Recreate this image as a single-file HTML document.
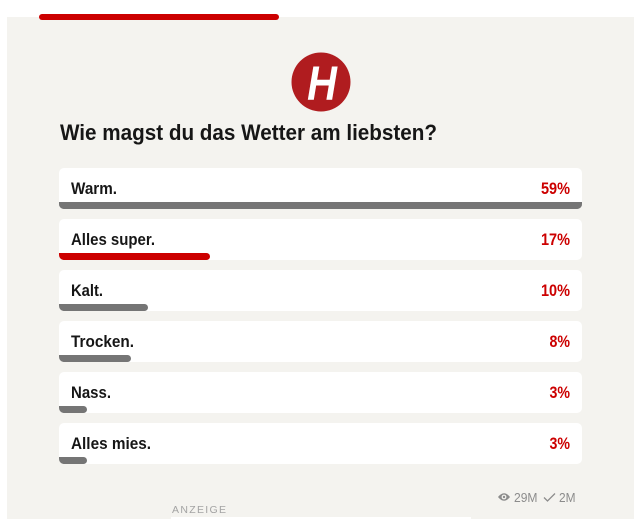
<!DOCTYPE html>
<html><head><meta charset="utf-8"><style>
html,body{margin:0;padding:0;background:#fff;width:635px;height:519px;overflow:hidden}
svg{display:block}
text{font-family:"Liberation Sans",Arial,sans-serif}
</style></head><body>
<svg width="635" height="519" viewBox="0 0 635 519" xmlns="http://www.w3.org/2000/svg">
<defs>
<clipPath id="c1"><rect x="59" y="168" width="523" height="41" rx="5"/></clipPath>
<clipPath id="c2"><rect x="59" y="219" width="523" height="41" rx="5"/></clipPath>
<clipPath id="c3"><rect x="59" y="270" width="523" height="41" rx="5"/></clipPath>
<clipPath id="c4"><rect x="59" y="321" width="523" height="41" rx="5"/></clipPath>
<clipPath id="c5"><rect x="59" y="372" width="523" height="41" rx="5"/></clipPath>
<clipPath id="c6"><rect x="59" y="423" width="523" height="41" rx="5"/></clipPath>
</defs>
<rect x="0" y="0" width="635" height="519" fill="#ffffff"/>
<rect x="7" y="17" width="627" height="502" fill="#f4f3ef"/>
<rect x="39" y="14" width="240" height="6" rx="3" fill="#cc0000"/>
<!-- logo -->
<circle cx="321" cy="82" r="29.5" fill="#b01c1f"/>
<text x="0" y="0" font-size="48" font-weight="bold" font-style="italic" fill="#ffffff" text-anchor="middle" transform="translate(322,100) scale(0.86,1)">H</text>
<!-- title -->
<text x="60" y="140" font-size="22" font-weight="bold" fill="#161616" textLength="377" lengthAdjust="spacingAndGlyphs">Wie magst du das Wetter am liebsten?</text>

<!-- card 1 -->
<rect x="59" y="168" width="523" height="41" rx="5" fill="#ffffff"/>
<g clip-path="url(#c1)"><rect x="59" y="202" width="523" height="7" rx="3.5" fill="#757575"/><rect x="59" y="202" width="10" height="7" fill="#757575"/><rect x="572" y="202" width="10" height="7" fill="#757575"/></g>
<text x="71" y="194" font-size="17" font-weight="bold" fill="#161616" textLength="46" lengthAdjust="spacingAndGlyphs">Warm.</text>
<text x="541" y="194" font-size="17" font-weight="bold" fill="#cc0000" textLength="29" lengthAdjust="spacingAndGlyphs">59%</text>

<!-- card 2 -->
<rect x="59" y="219" width="523" height="41" rx="5" fill="#ffffff"/>
<g clip-path="url(#c2)"><rect x="60" y="253" width="150" height="7" rx="3.5" fill="#cc0000"/><rect x="59" y="253" width="8" height="7" fill="#cc0000"/></g>
<text x="71" y="245" font-size="17" font-weight="bold" fill="#161616" textLength="84" lengthAdjust="spacingAndGlyphs">Alles super.</text>
<text x="541" y="245" font-size="17" font-weight="bold" fill="#cc0000" textLength="29" lengthAdjust="spacingAndGlyphs">17%</text>

<!-- card 3 -->
<rect x="59" y="270" width="523" height="41" rx="5" fill="#ffffff"/>
<g clip-path="url(#c3)"><rect x="60" y="304" width="88" height="7" rx="3.5" fill="#757575"/><rect x="59" y="304" width="8" height="7" fill="#757575"/></g>
<text x="71" y="296" font-size="17" font-weight="bold" fill="#161616" textLength="32" lengthAdjust="spacingAndGlyphs">Kalt.</text>
<text x="541" y="296" font-size="17" font-weight="bold" fill="#cc0000" textLength="29" lengthAdjust="spacingAndGlyphs">10%</text>

<!-- card 4 -->
<rect x="59" y="321" width="523" height="41" rx="5" fill="#ffffff"/>
<g clip-path="url(#c4)"><rect x="60" y="355" width="71" height="7" rx="3.5" fill="#757575"/><rect x="59" y="355" width="8" height="7" fill="#757575"/></g>
<text x="71" y="347" font-size="17" font-weight="bold" fill="#161616" textLength="63" lengthAdjust="spacingAndGlyphs">Trocken.</text>
<text x="549.5" y="347" font-size="17" font-weight="bold" fill="#cc0000" textLength="20.5" lengthAdjust="spacingAndGlyphs">8%</text>

<!-- card 5 -->
<rect x="59" y="372" width="523" height="41" rx="5" fill="#ffffff"/>
<g clip-path="url(#c5)"><rect x="60" y="406" width="27" height="7" rx="3.5" fill="#757575"/><rect x="59" y="406" width="8" height="7" fill="#757575"/></g>
<text x="71" y="398" font-size="17" font-weight="bold" fill="#161616" textLength="40" lengthAdjust="spacingAndGlyphs">Nass.</text>
<text x="549.5" y="398" font-size="17" font-weight="bold" fill="#cc0000" textLength="20.5" lengthAdjust="spacingAndGlyphs">3%</text>

<!-- card 6 -->
<rect x="59" y="423" width="523" height="41" rx="5" fill="#ffffff"/>
<g clip-path="url(#c6)"><rect x="60" y="457" width="27" height="7" rx="3.5" fill="#757575"/><rect x="59" y="457" width="8" height="7" fill="#757575"/></g>
<text x="71" y="449" font-size="17" font-weight="bold" fill="#161616" textLength="80" lengthAdjust="spacingAndGlyphs">Alles mies.</text>
<text x="549.5" y="449" font-size="17" font-weight="bold" fill="#cc0000" textLength="20.5" lengthAdjust="spacingAndGlyphs">3%</text>

<!-- footer stats -->
<g fill="none" stroke="#8c8c8c" stroke-width="1.6">
<path d="M498 497 Q504 489.5 510 497 Q504 504.5 498 497 Z" fill="#8c8c8c" stroke="none"/>
<circle cx="504" cy="497" r="2.4" fill="#f4f3ef" stroke="none"/>
<circle cx="504" cy="497" r="1.2" fill="#8c8c8c" stroke="none"/>
<path d="M544 497.5 L547.5 501 L555 493.5" stroke-width="1.3"/>
</g>
<text x="514" y="502" font-size="12.5" fill="#8c8c8c" textLength="23.5" lengthAdjust="spacingAndGlyphs">29M</text>
<text x="559" y="502" font-size="12.5" fill="#8c8c8c" textLength="16.5" lengthAdjust="spacingAndGlyphs">2M</text>

<text x="172" y="513" font-size="10.5" fill="#a3a3a3" textLength="54" lengthAdjust="spacing">ANZEIGE</text>
<rect x="171" y="517" width="300" height="2" fill="#ffffff"/>
</svg>
</body></html>
